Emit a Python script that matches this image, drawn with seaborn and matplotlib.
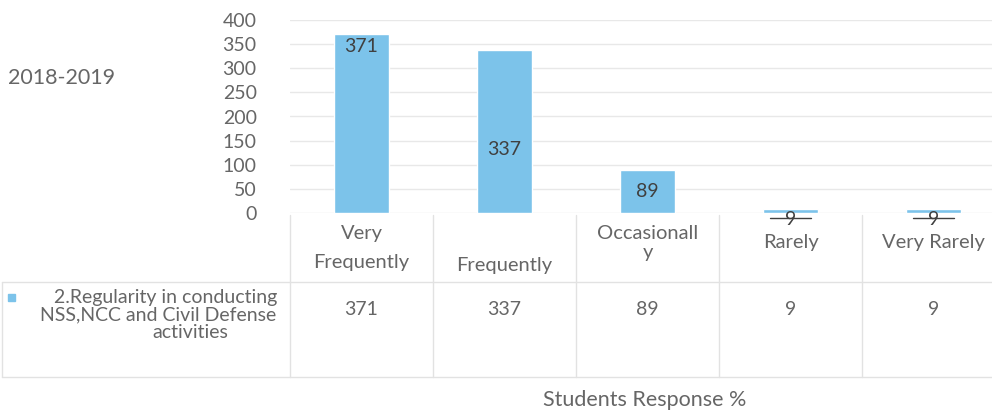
import numpy as np
import pandas as pd
import seaborn as sns
import matplotlib.pyplot as plt
from matplotlib.transforms import blended_transform_factory

categories = ["Very Frequently", "Frequently", "Occasionally", "Rarely", "Very Rarely"]
header_labels = ["Very\nFrequently", "Frequently", "Occasionall\ny", "Rarely", "Very Rarely"]
values = [371, 337, 89, 9, 9]
series_name = ["2.Regularity in conducting", "NSS,NCC and Civil Defense", "activities"]
yticks = [0, 50, 100, 150, 200, 250, 300, 350, 400]
year_label = "2018-2019"
x_title = "Students Response %"

sns.set_theme(style="white")
plt.rcParams['font.family'] = ['Lato', 'DejaVu Sans']

BAR = "#7cc3ea"
TXT = "#666666"
LINE = "#e2e2e2"
W, H = 992, 416

df = pd.DataFrame({"cat": categories, "val": values})

fig = plt.figure(figsize=(W / 100, H / 100), dpi=100)
ax = fig.add_axes([290 / W, 1 - 213 / H, 715 / W, 193 / H])

sns.barplot(data=df, x="cat", y="val", order=categories, color=BAR, width=0.38,
            saturation=1, ax=ax, zorder=3)
ax.set_xlim(-0.5, 4.5)
ax.set_ylim(0, 400)
ax.set_yticks(yticks)
ax.set_yticklabels([str(t) for t in yticks], fontsize=14, color=TXT)
ax.tick_params(axis="y", length=0, pad=24)
ax.set_xticks([])
ax.set_xlabel("")
ax.set_ylabel("")
for s in ax.spines.values():
    s.set_visible(False)
ax.yaxis.grid(True, color="#e8e8e8", lw=1, zorder=0)

# bar labels (positions relative to bar height, as in the original)
lab_frac = [None, 0.39, 0.5]
for i, v in enumerate(values):
    if i == 0:
        ax.annotate(str(v), (i, v), xytext=(0, -3), textcoords="offset points",
                    ha="center", va="top", fontsize=14, color="#404040")
    elif i < 3:
        ax.text(i, v * lab_frac[i], str(v), ha="center", va="center",
                fontsize=14, color="#404040")
    else:
        ax.annotate(str(v), (i, 0), xytext=(0, -5), textcoords="offset points",
                    ha="center", va="center", fontsize=14, color="#404040",
                    annotation_clip=False)
        ax.plot([i - 0.14, i + 0.14], [-10, -10], color="#404040", lw=1,
                clip_on=False, zorder=4)

# data table
xa = ax.get_xaxis_transform()
fy = blended_transform_factory(fig.transFigure, ax.transAxes)
def ay(py):
    return (213 - py) / 193

for i in range(len(categories) + 1):
    ax.plot([i - 0.5, i - 0.5], [ay(215), ay(377)], color=LINE, lw=1,
            transform=xa, clip_on=False)
for py in (282, 377):
    ax.plot([0.002, 1], [ay(py), ay(py)], color=LINE, lw=1, transform=fy,
            clip_on=False)
ax.plot([0.002, 0.002], [ay(282), ay(377)], color=LINE, lw=1, transform=fy,
        clip_on=False)

head_y = [248, 266, 243, 243, 243]
head_ls = [1.85, 1.2, 1.1, 1.2, 1.2]
for i, lab in enumerate(header_labels):
    ax.text(i, ay(head_y[i]), lab, transform=xa, ha="center", va="center",
            fontsize=14.5, color=TXT, linespacing=head_ls[i])
for i, v in enumerate(values):
    ax.text(i, ay(310), str(v), transform=xa, ha="center", va="center",
            fontsize=14, color=TXT)

# legend cell
fig.patches.append(plt.Rectangle((8 / W, 1 - 301 / H), 7 / W, 7 / H,
                                 transform=fig.transFigure, color=BAR))
fig.text(277 / W, 1 - 297 / H, series_name[0], ha="right", va="center",
         fontsize=14, color=TXT)
fig.text(276 / W, 1 - 315 / H, series_name[1], ha="right", va="center",
         fontsize=14, color=TXT)
fig.text(190 / W, 1 - 333 / H, series_name[2], ha="center", va="center",
         fontsize=14, color=TXT)

fig.text(8 / W, 1 - 78 / H, year_label, ha="left", va="center", fontsize=15.5,
         color=TXT)
fig.text(645 / W, 1 - 400 / H, x_title, ha="center", va="center", fontsize=15.5,
         color=TXT)

fig.savefig("out.png", dpi=100)
